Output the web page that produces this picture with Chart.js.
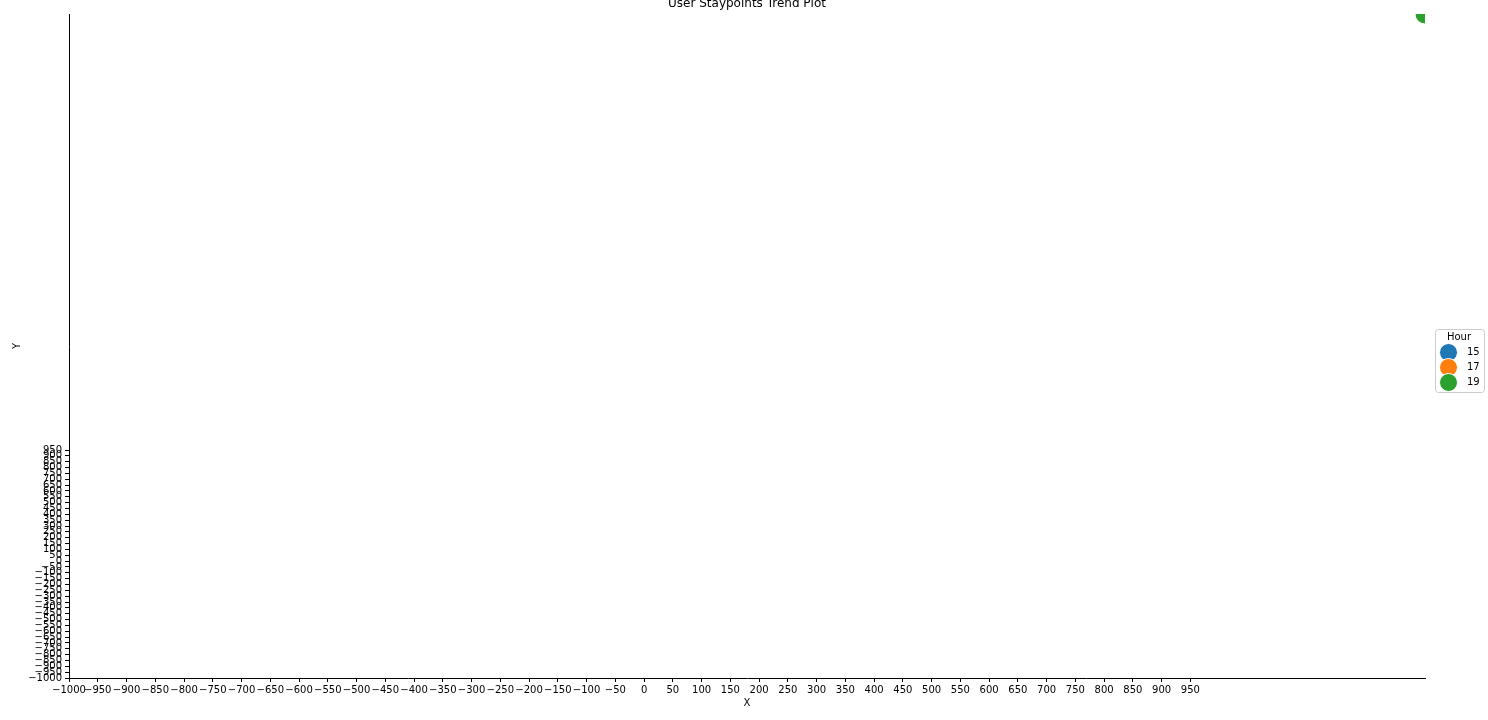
<!DOCTYPE html>
<html>
<head>
<meta charset="utf-8">
<script src="https://cdn.jsdelivr.net/npm/chart.js@4/dist/chart.umd.min.js"></script>
<style>
html,body{margin:0;padding:0;background:#fff;}
#wrap{position:relative;width:1488px;height:720px;}
</style>
</head>
<body>
<div id="wrap"><canvas id="c" width="1488" height="720"></canvas></div>
<script>
// ---- data ----
const hours = [15, 17, 19];
const xValues = [1358, 1358, 1358];
const yValues = [4680, 4680, 4680];
const colors = ['#1f77b4', '#ff7f0e', '#2ca02c'];
const xTickValues = [];
for (let v = -1000; v <= 950; v += 50) xTickValues.push(v);
const yTickValues = xTickValues.slice();
const titleText = 'User Staypoints Trend Plot';
const legendTitle = 'Hour';
const xLimits = [-1000, 1358];
const yLimits = [-1000, 4680];

const FONT = 'DejaVu Sans';
const fmt = v => String(v).replace('-', '\u2212');

const datasets = hours.map((h, i) => ({
  label: String(h),
  data: [{x: xValues[i], y: yValues[i]}],
  backgroundColor: colors[i],
  borderColor: '#ffffff',
  borderWidth: 1,
  pointRadius: 10,
  pointHoverRadius: 10,
  clip: 0,
  order: hours.length - i
}));

const titlePlugin = {
  id: 'mplTitle',
  afterDraw(chart) {
    const ctx = chart.ctx;
    const a = chart.chartArea;
    ctx.save();
    ctx.fillStyle = '#000';
    ctx.font = '12px "' + FONT + '"';
    ctx.textAlign = 'center';
    ctx.textBaseline = 'alphabetic';
    ctx.fillText(titleText, (a.left + a.right) / 2, 7);
    ctx.restore();
  }
};

const legendPlugin = {
  id: 'mplLegend',
  afterDraw(chart) {
    const ctx = chart.ctx;
    const bx = 1435.5, by = 329.5, bw = 49, bh = 63, r = 3;
    ctx.save();
    ctx.beginPath();
    ctx.moveTo(bx + r, by);
    ctx.lineTo(bx + bw - r, by);
    ctx.arcTo(bx + bw, by, bx + bw, by + r, r);
    ctx.lineTo(bx + bw, by + bh - r);
    ctx.arcTo(bx + bw, by + bh, bx + bw - r, by + bh, r);
    ctx.lineTo(bx + r, by + bh);
    ctx.arcTo(bx, by + bh, bx, by + bh - r, r);
    ctx.lineTo(bx, by + r);
    ctx.arcTo(bx, by, bx + r, by, r);
    ctx.closePath();
    ctx.fillStyle = 'rgba(255,255,255,0.8)';
    ctx.fill();
    ctx.strokeStyle = '#cccccc';
    ctx.lineWidth = 1;
    ctx.stroke();
    ctx.fillStyle = '#000';
    ctx.font = '10px "' + FONT + '"';
    ctx.textAlign = 'center';
    ctx.textBaseline = 'middle';
    ctx.fillText(legendTitle, 1459, 337);
    hours.forEach((h, i) => {
      const cy = 352.5 + i * 15;
      ctx.beginPath();
      ctx.arc(1448.5, cy, 9, 0, Math.PI * 2);
      ctx.fillStyle = colors[i];
      ctx.fill();
      ctx.strokeStyle = '#fff';
      ctx.lineWidth = 1;
      ctx.stroke();
      ctx.fillStyle = '#000';
      ctx.textAlign = 'left';
      ctx.fillText(String(h), 1467, cy);
    });
    ctx.restore();
  }
};

new Chart(document.getElementById('c'), {
  type: 'scatter',
  data: { datasets },
  plugins: [titlePlugin, legendPlugin],
  options: {
    responsive: false,
    animation: false,
    events: [],
    layout: { padding: { top: 14, right: 63, left: 0, bottom: 0 } },
    plugins: { legend: { display: false }, title: { display: false }, tooltip: { enabled: false } },
    scales: {
      x: {
        type: 'linear',
        min: xLimits[0], max: xLimits[1],
        afterBuildTicks: s => { s.ticks = xTickValues.map(v => ({value: v})); },
        afterFit: s => { s.height = 42; },
        ticks: {
          autoSkip: false, maxRotation: 0, minRotation: 0,
          color: '#000', padding: 2,
          font: { family: FONT, size: 10 },
          callback: v => fmt(v)
        },
        grid: { drawOnChartArea: false, tickLength: 4, color: '#000', tickColor: '#000', lineWidth: 1 },
        border: { display: true, color: '#000', width: 1 },
        title: { display: true, text: 'X', color: '#000', font: { family: FONT, size: 10 }, padding: { top: 0, bottom: 11 } }
      },
      y: {
        type: 'linear',
        min: yLimits[0], max: yLimits[1],
        afterBuildTicks: s => { s.ticks = yTickValues.map(v => ({value: v})); },
        afterFit: s => { s.width = 69; },
        ticks: {
          autoSkip: false, color: '#000', padding: 3,
          font: { family: FONT, size: 10 },
          callback: v => fmt(v)
        },
        grid: { drawOnChartArea: false, tickLength: 4, color: '#000', tickColor: '#000', lineWidth: 1 },
        border: { display: true, color: '#000', width: 1 },
        title: { display: true, text: 'Y', color: '#000', font: { family: FONT, size: 10 }, padding: { top: 11, bottom: 0 } }
      }
    }
  }
});
</script>
</body>
</html>
